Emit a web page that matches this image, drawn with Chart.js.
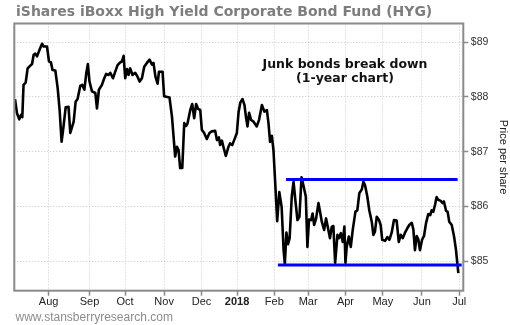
<!DOCTYPE html>
<html>
<head>
<meta charset="utf-8">
<title>HYG - 1 year</title>
<script src="https://cdn.jsdelivr.net/npm/chart.js@4.4.1/dist/chart.umd.min.js"></script>
<style>
  html, body { margin: 0; padding: 0; background: #fff; }
  #wrap { width: 510px; height: 325px; position: relative; }
</style>
</head>
<body>
<div id="wrap"><canvas id="hygChart"></canvas></div>
<script>
// x = trading session, counted from Aug 1 2017 (= 0)
const sessionDays = [
    -18.9, -17.8, -16.5, -15.5, -14.8, -14.1, -12.9, -11.8, -10.3, -9.3,
    -8.4, -7.5, -6.5, -5.1, -3.7, -2.8, -0.9, 0.2, 1.3, 2.2,
    3.8, 5.1, 6.2, 7.3, 8.4, 9.6, 11.2, 12.2, 14.1, 15.2,
    16.3, 17.8, 18.9, 20.1, 21.2, 22.1, 23.0, 24.4, 26.3, 27.2,
    28.3, 30.0, 31.3, 32.4, 33.7, 34.7, 36.2, 37.5, 38.8, 40.3,
    41.3, 42.2, 43.1, 44.1, 45.0, 45.9, 47.2, 48.7, 50.0, 51.2,
    52.5, 53.8, 55.3, 56.8, 58.1, 59.0, 60.1, 61.3, 62.1, 64.1,
    65.0, 68.0, 69.4, 71.2, 72.2, 73.1, 74.0, 75.2, 76.3, 77.4,
    78.1, 79.7, 80.8, 81.9, 83.0, 84.1, 85.3, 86.2, 87.5, 89.0,
    90.5, 91.8, 93.7, 94.7, 95.8, 96.5, 97.5, 98.4, 99.7, 101.2,
    102.1, 103.3, 104.4, 105.9, 106.9, 107.9, 109.1, 110.2, 111.0, 111.9,
    112.8, 113.9, 115.2, 117.1, 118.4, 120.0, 121.4, 122.8, 123.7, 124.6,
    125.6, 126.5, 127.4, 128.6, 129.8, 131.1, 132.2, 132.9, 133.8, 134.7,
    135.6, 136.8, 137.8, 138.8, 140.0, 141.1, 142.3, 143.3, 144.7, 145.6,
    146.5, 147.7, 148.5, 149.4, 150.5, 151.8, 152.7, 153.7, 155.0, 156.1,
    157.4, 158.3, 159.3, 160.2, 161.2, 162.5, 163.4, 164.4, 165.5, 166.4,
    167.0, 167.7, 168.9, 170.0, 171.1, 172.6, 173.7, 174.8, 176.2, 177.1,
    178.0, 179.3, 180.4, 181.8, 182.7, 183.6, 184.6, 185.9, 186.8, 187.7,
    189.3, 190.6, 191.7, 193.0, 194.3, 195.8, 197.0, 198.1, 199.2, 200.5,
    201.8, 202.9, 204.3, 205.2, 206.1, 207.1, 208.0, 208.9, 210.1, 211.2,
    212.3, 213.6, 214.7, 215.5, 216.4, 217.4, 218.3, 219.2, 220.6, 221.7,
    222.4, 223.6, 224.5, 225.4, 226.8, 228.1, 229.2, 230.5
];
const closePrices = [
    87.96, 87.70, 87.59, 87.67, 87.63, 88.22, 88.26, 88.52, 88.57, 88.60,
    88.77, 88.79, 88.74, 88.86, 88.97, 88.92, 88.92, 88.65, 88.63, 88.49,
    88.48, 88.16, 87.76, 87.18, 87.46, 87.81, 87.82, 87.34, 87.55, 87.91,
    87.96, 88.20, 88.22, 88.13, 88.43, 88.60, 88.28, 88.10, 88.07, 87.79,
    88.13, 88.22, 88.34, 88.42, 88.40, 88.44, 88.34, 88.46, 88.58, 88.63,
    88.65, 88.75, 88.34, 88.51, 88.40, 88.52, 88.40, 88.44, 88.37, 88.28,
    88.34, 88.55, 88.62, 88.68, 88.59, 88.62, 88.37, 88.24, 88.46, 88.46,
    88.01, 87.99, 87.64, 86.91, 87.09, 87.03, 86.70, 86.70, 87.52, 87.47,
    87.51, 87.76, 87.87, 87.61, 87.87, 87.78, 87.76, 87.40, 87.34, 87.23,
    87.34, 87.37, 87.38, 87.21, 87.26, 87.12, 87.20, 87.08, 86.92, 87.09,
    87.15, 87.12, 87.21, 87.34, 87.73, 87.90, 87.96, 87.85, 87.64, 87.46,
    87.71, 87.58, 87.55, 87.46, 87.58, 87.85, 87.73, 87.76, 87.52, 87.18,
    87.29, 87.03, 86.48, 85.73, 86.26, 85.99, 85.20, 84.95, 85.52, 85.31,
    85.42, 86.18, 86.45, 86.12, 85.75, 85.81, 86.53, 86.39, 86.18, 85.26,
    85.76, 85.75, 85.87, 85.66, 85.78, 86.06, 85.90, 85.72, 85.57, 85.78,
    85.57, 85.42, 85.63, 85.64, 84.97, 85.48, 85.42, 85.51, 85.35, 85.63,
    84.97, 85.26, 85.45, 85.26, 85.57, 85.90, 85.93, 86.24, 86.31, 86.45,
    86.39, 86.18, 85.93, 85.72, 85.48, 85.54, 85.81, 85.75, 85.66, 85.39,
    85.37, 85.44, 85.39, 85.52, 85.75, 85.74, 85.35, 85.48, 85.42, 85.52,
    85.60, 85.66, 85.70, 85.58, 85.20, 85.46, 85.40, 85.20, 85.39, 85.46,
    85.69, 85.86, 85.84, 85.93, 85.90, 86.03, 86.17, 86.12, 86.10, 86.06,
    86.09, 85.92, 85.90, 85.72, 85.66, 85.45, 85.20, 84.78
];

// first session of each month
const monthTickDays = [0, 23, 43, 65, 86, 106, 127, 146, 167, 188, 210, 231];
const monthTickLabels = ['Aug', 'Sep', 'Oct', 'Nov', 'Dec', '2018', 'Feb', 'Mar', 'Apr', 'May', 'Jun', 'Jul'];
const priceTicks = [85, 86, 87, 88, 89];

// trading range drawn on the chart
const rangeTopDays = [133.6, 230.1];
const rangeTopPrice = 86.49;
const rangeBottomDays = [129.0, 232.4];
const rangeBottomPrice = 84.93;

const chartTitle = 'iShares iBoxx High Yield Corporate Bond Fund (HYG)';
const noteLines = ['Junk bonds break down', '(1-year chart)'];
const sourceText = 'www.stansberryresearch.com';

const SANS = '"Liberation Sans", Arial, sans-serif';
const BOLD_SANS = '"DejaVu Sans", Verdana, sans-serif';

// frame, title, note and source line
const frameAndText = {
    id: 'frameAndText',
    afterDraw(chart) {
        const { ctx, chartArea: a } = chart;
        ctx.save();
        ctx.strokeStyle = '#8a8a8a';
        ctx.lineWidth = 2;
        ctx.strokeRect(a.left, a.top, a.right - a.left, a.bottom - a.top);

        ctx.textBaseline = 'alphabetic';
        ctx.fillStyle = '#7d7d7d';
        ctx.font = 'bold 14px ' + BOLD_SANS;
        ctx.fillText(chartTitle, 16, 15.5);

        ctx.fillStyle = '#8c8c8c';
        ctx.font = '12px ' + SANS;
        ctx.fillText(sourceText, 15.5, 321);

        ctx.fillStyle = '#111';
        ctx.font = 'bold 12.5px ' + BOLD_SANS;
        ctx.textAlign = 'center';
        ctx.fillText(noteLines[0], 345, 67.7);
        ctx.fillText(noteLines[1], 345, 82);
        ctx.restore();
    }
};

const series = sessionDays.map((d, i) => ({ x: d, y: closePrices[i] }));

const gridStyle = {
    color: '#c8c8c8',
    lineWidth: 1,
    tickLength: 5,
    tickColor: '#8a8a8a',
    tickWidth: 1.5,
    tickBorderDash: []
};

new Chart(document.getElementById('hygChart'), {
    type: 'line',
    data: {
        datasets: [
            {
                data: series,
                borderColor: '#000',
                borderWidth: 2.6,
                borderJoinStyle: 'round',
                pointRadius: 0,
                tension: 0,
                order: 1
            },
            {
                data: rangeTopDays.map(d => ({ x: d, y: rangeTopPrice })),
                borderColor: '#0000ff',
                borderWidth: 3,
                pointRadius: 0,
                order: 0
            },
            {
                data: rangeBottomDays.map(d => ({ x: d, y: rangeBottomPrice })),
                borderColor: '#0000ff',
                borderWidth: 3,
                pointRadius: 0,
                order: 0
            }
        ]
    },
    options: {
        responsive: true,
        maintainAspectRatio: false,
        animation: false,
        layout: { padding: { left: 14.3, top: 23.5, right: 0, bottom: 0 } },
        plugins: {
            legend: { display: false },
            tooltip: { enabled: false }
        },
        scales: {
            x: {
                type: 'linear',
                min: -19.3,
                max: 233.3,
                afterBuildTicks: scale => { scale.ticks = monthTickDays.map(v => ({ value: v })); },
                afterFit: scale => { scale.height = 34.3; },
                grid: gridStyle,
                border: { display: false, dash: [1, 2] },
                ticks: {
                    padding: 0,
                    maxRotation: 0,
                    autoSkip: false,
                    color: '#222',
                    font: ctx => ({
                        family: SANS,
                        size: 11,
                        weight: monthTickLabels[ctx.index] === '2018' ? 'bold' : 'normal'
                    }),
                    callback: (value, index) => monthTickLabels[index]
                }
            },
            y: {
                position: 'right',
                min: 84.46,
                max: 89.34,
                afterBuildTicks: scale => { scale.ticks = priceTicks.map(v => ({ value: v })); },
                afterFit: scale => { scale.width = 46.7; },
                grid: gridStyle,
                border: { display: false, dash: [1, 2] },
                ticks: {
                    padding: 2.5,
                    color: '#333',
                    font: { family: SANS, size: 10.5 },
                    callback: v => '$' + v
                },
                title: {
                    display: true,
                    text: 'Price per share',
                    color: '#222',
                    font: { family: SANS, size: 11 },
                    padding: { top: 0, bottom: 0 }
                }
            }
        }
    },
    plugins: [frameAndText]
});
</script>
</body>
</html>
